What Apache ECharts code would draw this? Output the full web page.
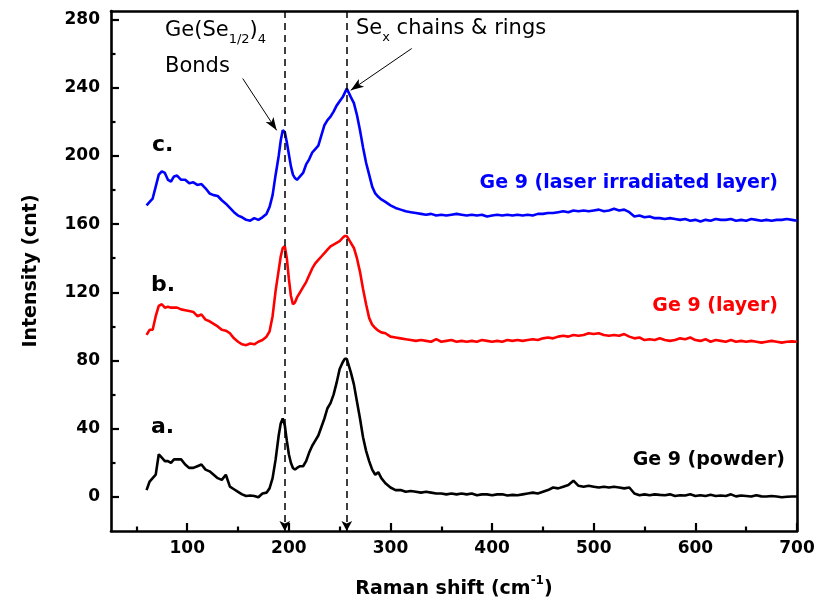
<!DOCTYPE html>
<html>
<head>
<meta charset="utf-8">
<script src="https://cdn.jsdelivr.net/npm/echarts@6/dist/echarts.min.js"></script>
<style>
  html, body { margin: 0; padding: 0; background: #ffffff; }
  #chart { width: 826px; height: 605px; }
</style>
</head>
<body>
<div id="chart"></div>
<script>
// Raman shift (cm-1) sampling shared by the three spectra
const ramanShift = [
  60, 63, 66, 69, 72, 75, 78, 81, 84, 87, 90,
  94, 98, 102, 106, 110, 114, 118, 122, 126, 130, 134, 138, 142, 146, 150, 154, 158, 162, 166, 170, 174, 178,
  181, 184, 187, 190,
  192, 194, 196, 198, 200, 202, 204, 206, 208,
  211, 214, 217, 220, 223, 226, 229, 232, 235, 238, 241, 244, 247, 250, 253,
  255, 257, 259, 261,
  264, 267, 270, 273, 276, 279, 282, 285, 288, 291,
  295,
  300, 305, 310, 315, 320, 325, 330, 335, 340, 345,
  350, 355, 360, 365, 370, 375, 380, 385, 390, 395,
  400, 405, 410, 415, 420, 425, 430, 435, 440, 445,
  450, 455, 460, 465, 470, 475, 480, 485, 490, 495,
  500, 505, 510, 515, 520, 525, 530, 535, 540, 545,
  550, 555, 560, 565, 570, 575, 580, 585, 590, 595,
  600, 605, 610, 615, 620, 625, 630, 635, 640, 645,
  650, 655, 660, 665, 670, 675, 680, 685, 690, 695,
  700
];

// a. Ge 9 (powder)
const powder = [
  4, 9, 11, 13, 25, 23, 21, 21, 20, 22, 22,
  22, 19, 17, 17, 18, 19, 16, 15, 13, 11, 10, 13, 6, 4.5, 3, 1.5, 0.5, 0.8, 0.5, -0.2, 2, 2.5,
  5, 11, 22, 36,
  43, 46, 42, 33, 25, 20, 17, 16, 17,
  18, 18, 21, 26, 30, 33, 36, 41, 46, 52, 55, 60, 67, 75, 79,
  81, 81, 77, 73,
  66, 56, 46, 35, 27, 21, 16, 13, 14.5, 11,
  8,
  5.5, 4, 4, 3, 3.5, 3, 2.5, 3, 2.5, 2,
  2, 1.5, 2, 1.5, 2, 1.5, 2, 1, 1.5, 1.5,
  1, 1.5, 1.5, 0.8, 1.2, 1, 1.5, 2, 2.5, 2,
  3, 4, 5.5, 5, 6, 7, 9.5, 6.5, 6, 6.5,
  6, 5.5, 6, 5.5, 6, 5.5, 5, 5.5, 2, 1,
  1.5, 1, 1.5, 1.2, 1, 1.5, 0.5, 1, 0.8, 1.5,
  0.5, 1, 0.5, 1.2, 0.5, 0.8, 0.5, 1.5, 0.3, 0.8,
  0.5, 0.2, 1, 0.3, 0.2, 0.5, 0.2, -0.2, 0.1, 0.2,
  0.2
];

// b. Ge 9 (layer)
const layer = [
  95, 98, 98, 106, 112, 113, 111, 111.5, 111, 111, 111,
  110, 109.5, 109, 108.5, 106, 107, 104, 103, 101.5, 100, 98, 97.5, 96, 93, 91, 89.5, 89, 90, 89.5, 91, 92, 94,
  97, 106, 121, 133,
  141, 146, 147, 140, 128, 118, 113, 114, 117,
  120, 123, 126, 130, 134, 137, 139, 141, 143, 145, 147, 148, 149, 150, 152,
  153, 153, 151, 149,
  146, 140, 132, 122, 113, 105, 101, 99, 97.5, 96.5,
  96,
  94, 93.5, 93, 92.5, 92, 91.5, 92, 91.5, 91, 92.5,
  91, 91.5, 92, 91, 91.5, 91, 91.5, 91, 92, 91.5,
  91, 91.5, 91, 92, 91.5, 92, 91.5, 92, 92.5, 92,
  93, 93.5, 93, 94, 94.5, 94, 95, 94.5, 95, 96,
  95.5, 96, 95, 94.5, 95, 94.5, 95.5, 94, 93, 93.5,
  92, 92.5, 92, 93, 92, 91.5, 92, 93, 92.5, 93.5,
  92, 91.5, 92.5, 91, 92, 91.5, 91, 92, 91, 91.5,
  91, 91.5, 91, 90.5, 91, 91.5, 91, 90.5, 91, 91.2,
  91
];

// c. Ge 9 (laser irradiated layer)
const laserLayer = [
  171, 173, 175, 182, 189, 191, 190, 186, 185, 188, 188.5,
  186, 186, 184, 184.5, 183, 183.5, 181, 178, 177, 176.5, 174, 172, 169.5, 167, 165, 164, 162.5, 162, 163.5, 162.5, 164, 166,
  170, 177, 189, 200,
  209, 215, 214, 208, 201, 194, 189, 187, 186,
  188, 190, 195, 198, 202, 204, 206, 212, 218, 221, 223, 226, 229.5, 232, 234.5,
  237, 239.5, 237, 234.5,
  231, 224, 215, 205, 196, 189, 182, 178, 176, 174.5,
  173,
  171, 169.5, 168.5, 167.5, 167, 166.5, 166, 165.5, 166, 165,
  165.5, 165, 165.5, 166, 165.5, 165, 165.5, 165, 165.5, 164.5,
  165, 165.5, 165, 165.5, 165, 165.5, 165, 165.5, 165, 166,
  166, 166.5, 166.5, 167, 167.5, 167, 168, 167.5, 168, 167.5,
  168, 168.5, 167.5, 168, 169, 168, 168.5, 167, 164.5, 165,
  164, 164.5, 163.5, 163.5, 163, 163.5, 163, 162.5, 163, 162,
  162.5, 161.5, 162.5, 162, 163, 162.5, 162.5, 163, 162, 162.5,
  162, 163, 162.5, 162, 162.5, 162, 162.5, 162.5, 163, 162.5,
  162
];

// Axis ticks
const xMajorTicks = [100, 200, 300, 400, 500, 600, 700];
const xMinorTicks = [50, 150, 250, 350, 450, 550, 650];
const yMajorTicks = [0, 40, 80, 120, 160, 200, 240, 280];
const yMinorTicks = [20, 60, 100, 140, 180, 220, 260];

// Band positions marked by dashed guides (cm-1)
const bandPositions = [196, 257];

// Annotation arrows: [start, end] in (cm-1, cnt)
const bondsArrow = [[154.6, 245.4], [188, 215]];
const chainsArrow = [[320.9, 263], [260.9, 238.5]];

const X_MIN = 25, X_MAX = 700, Y_MIN = -20, Y_MAX = 285;
const FONT = '"DejaVu Sans", "Liberation Sans", Arial, sans-serif';

const chart = echarts.init(document.getElementById('chart'), null, { renderer: 'canvas' });

const pairs = (ys) => ramanShift.map((x, i) => [x, ys[i]]);

const frameLine = { show: true, onZero: false, lineStyle: { color: '#000', width: 2.6 } };
const noLine = { show: false, onZero: false };

const option = {
  animation: false,
  backgroundColor: '#ffffff',
  grid: { left: 111, right: 29, top: 11, bottom: 74, containLabel: false },
  xAxis: [
    {
      type: 'value', min: X_MIN, max: X_MAX, position: 'bottom',
      axisLine: frameLine,
      axisTick: { show: true, inside: true, length: 8, lineStyle: { color: '#000', width: 2.2 }, customValues: xMajorTicks },
      axisLabel: { show: true, customValues: xMajorTicks, margin: 9, color: '#000', fontSize: 17, fontWeight: 'bold', fontFamily: FONT },
      splitLine: { show: false },
      name: '{b|Raman shift (cm}{s|-1}{b|)}',
      nameLocation: 'middle', nameGap: 44,
      nameTextStyle: {
        rich: {
          b: { fontSize: 19, fontWeight: 'bold', fontFamily: FONT, color: '#000', lineHeight: 24, verticalAlign: 'bottom' },
          s: { fontSize: 12, fontWeight: 'bold', fontFamily: FONT, color: '#000', lineHeight: 24, verticalAlign: 'top' }
        }
      }
    },
    {
      type: 'value', min: X_MIN, max: X_MAX, position: 'bottom',
      axisLine: noLine,
      axisTick: { show: true, inside: true, length: 4.5, lineStyle: { color: '#000', width: 2.2 }, customValues: xMinorTicks },
      axisLabel: { show: false },
      splitLine: { show: false }
    },
    {
      type: 'value', min: X_MIN, max: X_MAX, position: 'top',
      axisLine: frameLine, axisTick: { show: false }, axisLabel: { show: false }, splitLine: { show: false }
    }
  ],
  yAxis: [
    {
      type: 'value', min: Y_MIN, max: Y_MAX, position: 'left',
      axisLine: frameLine,
      axisTick: { show: true, inside: true, length: 8, lineStyle: { color: '#000', width: 2.2 }, customValues: yMajorTicks },
      axisLabel: { show: true, customValues: yMajorTicks, margin: 11, color: '#000', fontSize: 17, fontWeight: 'bold', fontFamily: FONT },
      splitLine: { show: false },
      name: 'Intensity (cnt)',
      nameLocation: 'middle', nameGap: 70,
      nameTextStyle: { fontSize: 19, fontWeight: 'bold', fontFamily: FONT, color: '#000' }
    },
    {
      type: 'value', min: Y_MIN, max: Y_MAX, position: 'left',
      axisLine: noLine,
      axisTick: { show: true, inside: true, length: 4.5, lineStyle: { color: '#000', width: 2.2 }, customValues: yMinorTicks },
      axisLabel: { show: false },
      splitLine: { show: false }
    },
    {
      type: 'value', min: Y_MIN, max: Y_MAX, position: 'right',
      axisLine: frameLine, axisTick: { show: false }, axisLabel: { show: false }, splitLine: { show: false }
    }
  ],
  series: [
    {
      name: 'Ge 9 (powder)', type: 'line', xAxisIndex: 0, yAxisIndex: 0,
      data: pairs(powder), showSymbol: false, smooth: false,
      lineStyle: { color: '#000000', width: 2.6 }, z: 3,
      markLine: {
        silent: true, animation: false,
        label: { show: false },
        lineStyle: { color: '#000', width: 1.5, type: [7, 5] },
        symbolSize: [8, 10],
        data: bandPositions.map(x => [
          { coord: [x, Y_MAX], symbol: 'none' },
          { coord: [x, Y_MIN], symbol: 'arrow' }
        ])
      }
    },
    {
      name: 'Ge 9 (layer)', type: 'line', xAxisIndex: 0, yAxisIndex: 0,
      data: pairs(layer), showSymbol: false,
      lineStyle: { color: '#ff0000', width: 2.6 }, z: 3
    },
    {
      name: 'Ge 9 (laser irradiated layer)', type: 'line', xAxisIndex: 0, yAxisIndex: 0,
      data: pairs(laserLayer), showSymbol: false,
      lineStyle: { color: '#0000ff', width: 2.6 }, z: 3,
      markLine: {
        silent: true, animation: false,
        label: { show: false },
        lineStyle: { color: '#000', width: 1, type: 'solid' },
        symbolSize: [7, 13],
        data: [bondsArrow, chainsArrow].map(a => [
          { coord: a[0], symbol: 'none' },
          { coord: a[1], symbol: 'arrow' }
        ])
      }
    }
  ],
  graphic: [
    { type: 'text', left: 152, top: 134, style: { text: 'c.', fontSize: 22, fontWeight: 'bold', fontFamily: FONT, fill: '#000' } },
    { type: 'text', left: 151, top: 274, style: { text: 'b.', fontSize: 22, fontWeight: 'bold', fontFamily: FONT, fill: '#000' } },
    { type: 'text', left: 151, top: 416, style: { text: 'a.', fontSize: 22, fontWeight: 'bold', fontFamily: FONT, fill: '#000' } },
    { type: 'text', right: 48, top: 174, style: { text: 'Ge 9 (laser irradiated layer)', fontSize: 19, fontWeight: 'bold', fontFamily: FONT, fill: '#0000ff' } },
    { type: 'text', right: 48, top: 297, style: { text: 'Ge 9 (layer)', fontSize: 19, fontWeight: 'bold', fontFamily: FONT, fill: '#ff0000' } },
    { type: 'text', right: 41, top: 451, style: { text: 'Ge 9 (powder)', fontSize: 19, fontWeight: 'bold', fontFamily: FONT, fill: '#000000' } },
    {
      type: 'text', left: 165, top: 20,
      style: {
        text: '{m|Ge(Se}{s|1/2}{m|)}{s|4}',
        rich: {
          m: { fontSize: 21, fontFamily: FONT, fill: '#000', lineHeight: 26, verticalAlign: 'top' },
          s: { fontSize: 13, fontFamily: FONT, fill: '#000', lineHeight: 26, verticalAlign: 'bottom' }
        }
      }
    },
    { type: 'text', left: 165, top: 56, style: { text: 'Bonds', fontSize: 21, fontFamily: FONT, fill: '#000' } },
    {
      type: 'text', left: 356, top: 18,
      style: {
        text: '{m|Se}{s|x}{m| chains & rings}',
        rich: {
          m: { fontSize: 21, fontFamily: FONT, fill: '#000', lineHeight: 26, verticalAlign: 'top' },
          s: { fontSize: 13, fontFamily: FONT, fill: '#000', lineHeight: 26, verticalAlign: 'bottom' }
        }
      }
    }
  ]
};

chart.setOption(option);
</script>
</body>
</html>
